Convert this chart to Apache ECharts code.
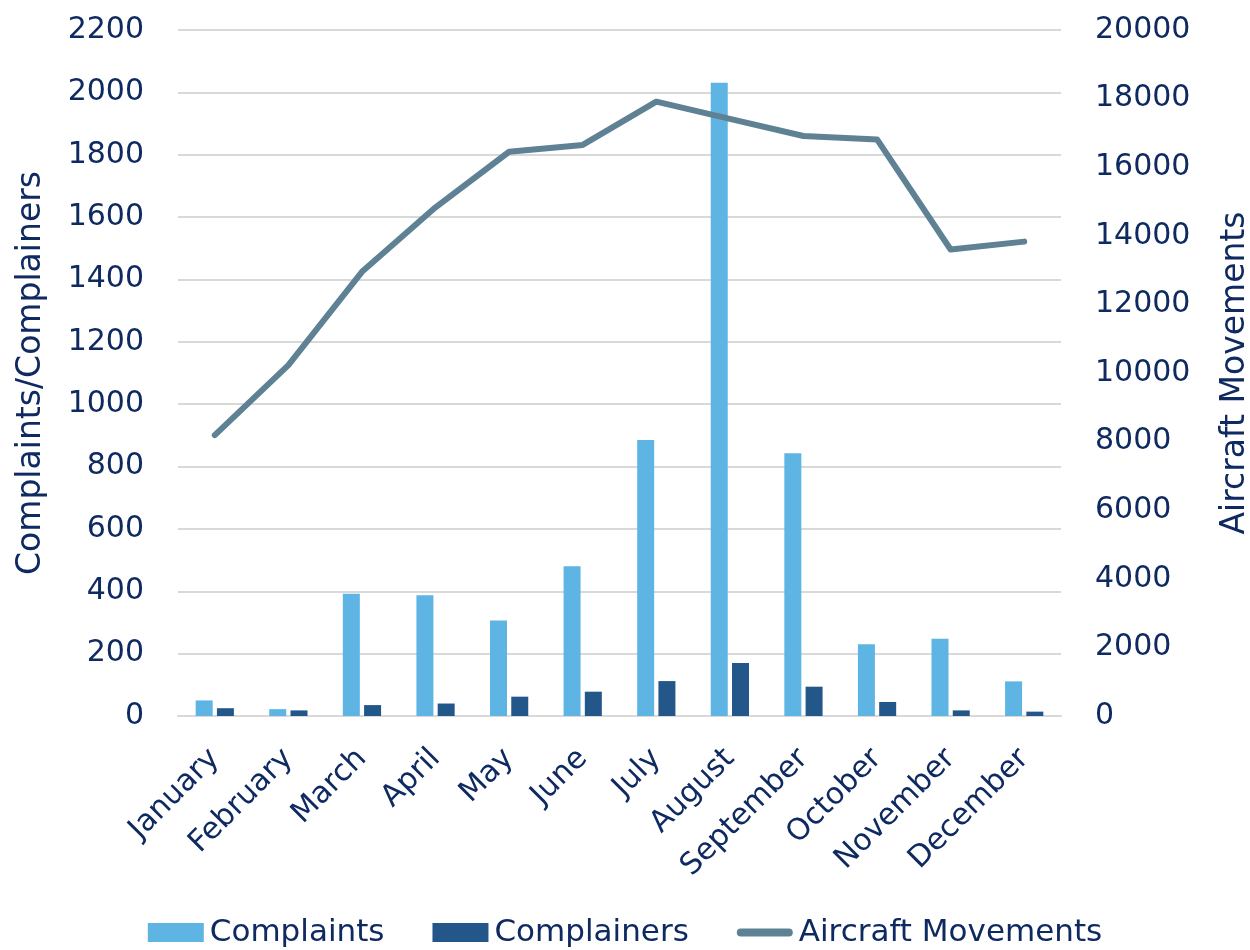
<!DOCTYPE html>
<html>
<head>
<meta charset="utf-8">
<script src="https://cdn.jsdelivr.net/npm/echarts@6/dist/echarts.min.js"></script>
<style>
  html, body { margin: 0; padding: 0; background: #ffffff; }
  #chart { width: 1250px; height: 950px; }
</style>
</head>
<body>
<div id="chart"></div>
<script>
// Monthly complaints, complainers and aircraft movements
const months = ['January', 'February', 'March', 'April', 'May', 'June',
                'July', 'August', 'September', 'October', 'November', 'December'];
const complaints = [50, 22, 392, 387, 306, 480, 885, 2031, 843, 230, 248, 111];
const complainers = [25, 18, 35, 40, 62, 78, 112, 170, 94, 45, 18, 14];
const aircraftMovements = [8190, 10230, 12950, 14830, 16450, 16650, 17910, 17410, 16910, 16810, 13600, 13830];
const leftTicks = { min: 0, max: 2200, interval: 200 };
const rightTicks = { min: 0, max: 20000, interval: 2000 };

const textColor = '#0E2A61';
const fontFamily = '"DejaVu Sans", "Open Sans", sans-serif';
const fontSize = 30;
const nameSize = 33;
const plain = v => String(v);

const chart = echarts.init(document.getElementById('chart'), null, { renderer: 'canvas' });

chart.setOption({
  backgroundColor: '#ffffff',
  animation: false,
  textStyle: { fontFamily: fontFamily, color: textColor },
  grid: { left: 178, right: 189, top: 30, bottom: 234, containLabel: false, outerBoundsMode: 'none' },
  legend: {
    bottom: -3,
    left: 'center',
    itemGap: 48,
    itemWidth: 56,
    itemHeight: 19,
    textStyle: { fontSize: 31, color: textColor, fontFamily: fontFamily, padding: [0, 0, 0, 1] },
    data: [
      { name: 'Complaints', icon: 'rect' },
      { name: 'Complainers', icon: 'rect' },
      { name: 'Aircraft Movements', icon: 'path://M4,0 H52 A4,4 0 0 1 52,8 H4 A4,4 0 0 1 4,0 Z' }
    ]
  },
  xAxis: {
    type: 'category',
    data: months,
    axisLine: { show: true, lineStyle: { color: '#D9D9D9', width: 2 } },
    axisTick: { show: false },
    axisLabel: {
      interval: 0,
      rotate: 45,
      margin: 38,
      fontSize: fontSize,
      color: textColor,
      fontFamily: fontFamily
    }
  },
  yAxis: [
    {
      type: 'value',
      min: leftTicks.min,
      max: leftTicks.max,
      interval: leftTicks.interval,
      name: 'Complaints/Complainers',
      nameLocation: 'middle',
      nameRotate: 90,
      nameGap: 130,
      nameTextStyle: { fontSize: nameSize, color: textColor, fontFamily: fontFamily },
      axisLine: { show: false },
      axisTick: { show: false },
      axisLabel: { margin: 34, fontSize: fontSize, color: textColor, fontFamily: fontFamily, formatter: plain },
      splitLine: { show: true, lineStyle: { color: '#D9D9D9', width: 2 } }
    },
    {
      type: 'value',
      min: rightTicks.min,
      max: rightTicks.max,
      interval: rightTicks.interval,
      position: 'right',
      name: 'Aircraft Movements',
      nameLocation: 'middle',
      nameRotate: 90,
      nameGap: 158,
      nameTextStyle: { fontSize: nameSize, color: textColor, fontFamily: fontFamily },
      axisLine: { show: false },
      axisTick: { show: false },
      axisLabel: { margin: 34, fontSize: fontSize, color: textColor, fontFamily: fontFamily, formatter: plain },
      splitLine: { show: false }
    }
  ],
  series: [
    {
      name: 'Complaints',
      type: 'bar',
      yAxisIndex: 0,
      data: complaints,
      barWidth: 17,
      barGap: '25%',
      itemStyle: { color: '#5EB5E4' }
    },
    {
      name: 'Complainers',
      type: 'bar',
      yAxisIndex: 0,
      data: complainers,
      barWidth: 17,
      barGap: '25%',
      itemStyle: { color: '#235789' }
    },
    {
      name: 'Aircraft Movements',
      type: 'line',
      yAxisIndex: 1,
      data: aircraftMovements,
      symbol: 'none',
      lineStyle: { color: '#5E8194', width: 6, cap: 'round', join: 'round' },
      itemStyle: { color: '#5E8194' },
      z: 3
    }
  ]
});
</script>
</body>
</html>
